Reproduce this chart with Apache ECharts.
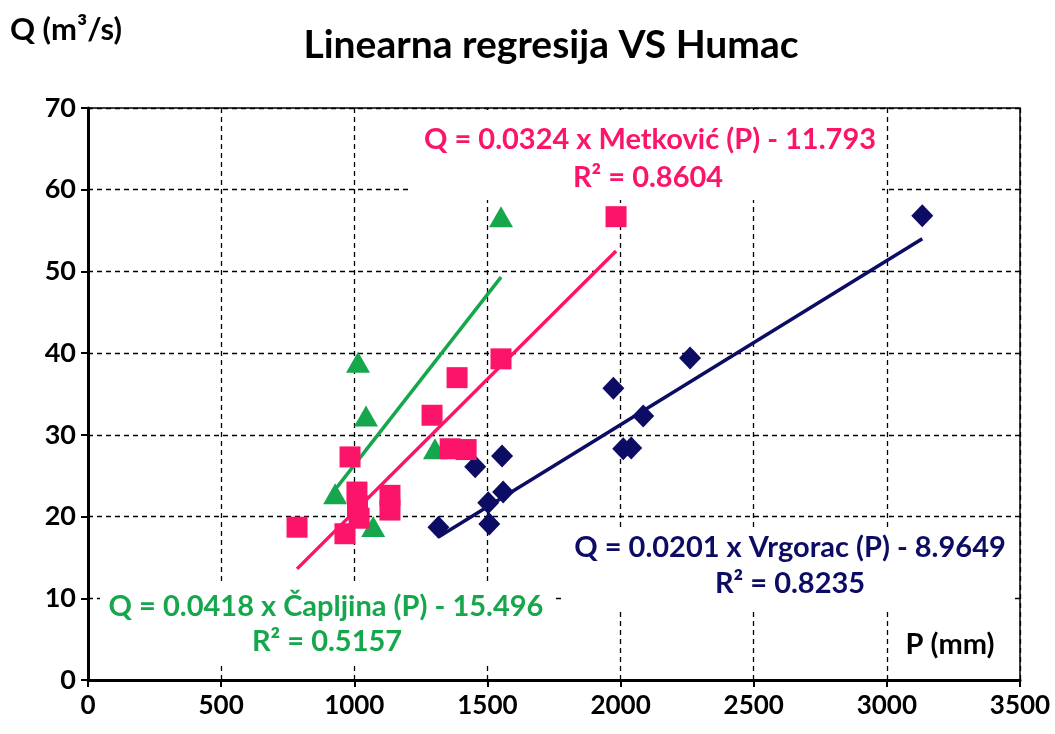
<!DOCTYPE html>
<html>
<head>
<meta charset="utf-8">
<script src="https://cdn.jsdelivr.net/npm/echarts@6/dist/echarts.min.js"></script>
<style>html,body{margin:0;padding:0;background:#fff}#c{width:1055px;height:734px}</style>
</head>
<body>
<div id="c"></div>
<script>
const vrgoracP = [1316, 1454, 1503, 1507, 1555, 1559, 1973, 2010, 2040, 2085, 2261, 3133];
const vrgoracQ = [18.7, 26.1, 21.7, 19.1, 27.4, 23.0, 35.7, 28.3, 28.4, 32.3, 39.4, 56.8];
const metkovicP = [785, 965, 984, 1010, 1012, 1018, 1134, 1134, 1292, 1360, 1386, 1420, 1551, 1983];
const metkovicQ = [18.7, 17.9, 27.3, 23.0, 21.3, 19.8, 22.6, 20.8, 32.4, 28.3, 37.0, 28.2, 39.3, 56.7];
const capljinaP = [928, 1014, 1044, 1071, 1303, 1551];
const capljinaQ = [22.8, 38.9, 32.3, 18.8, 28.3, 56.7];
const vrgoracTrendP = [1316, 3133];
const vrgoracTrendQ = [17.5, 54.0];
const metkovicTrendP = [785, 1983];
const metkovicTrendQ = [13.6, 52.5];
const capljinaTrendP = [928, 1551];
const capljinaTrendQ = [23.3, 49.3];
const titleText = 'Linearna regresija VS Humac';
const yName = 'Q (m³/s)';
const xName = 'P (mm)';
const metkovicEq = ['Q = 0.0324 x Metković (P) - 11.793', 'R² = 0.8604'];
const vrgoracEq = ['Q = 0.0201 x Vrgorac (P) - 8.9649', 'R² = 0.8235'];
const capljinaEq = ['Q = 0.0418 x Čapljina (P) - 15.496', 'R² = 0.5157'];

const FONT = "'Lato', sans-serif";
const NAVY = '#0c0c64', PINK = '#fb1469', GREEN = '#16a64c';
const zip = (a, b) => a.map((v, i) => [v, b[i]]);

const chart = echarts.init(document.getElementById('c'), null, {renderer: 'canvas'});

function txt(x, y, s, color, size) {
  return {type: 'text', x: x, y: y, z: 100, style: {text: s, fill: color, font: 'bold ' + size + 'px ' + FONT, textAlign: 'center', textVerticalAlign: 'middle'}};
}
function box(x, y, w, h) {
  return {type: 'rect', x: x, y: y, z: 1, shape: {width: w, height: h}, style: {fill: '#fff'}};
}
const gridLine = {show: true, lineStyle: {color: '#000', width: 1.3, type: [5, 4]}};

chart.setOption({
  animation: false,
  backgroundColor: '#fff',
  grid: {left: 88, right: 35, top: 108, bottom: 54, show: true, borderColor: '#000', borderWidth: 1.5, backgroundColor: 'transparent'},
  xAxis: {
    type: 'value', min: 0, max: 3500, interval: 500,
    axisLine: {show: true, onZero: false, lineStyle: {color: '#000', width: 3}},
    axisTick: {show: true, length: 7, lineStyle: {color: '#000', width: 2}},
    axisLabel: {color: '#000', fontFamily: FONT, fontWeight: 'bold', fontSize: 26, margin: 13, formatter: v => String(v)},
    splitLine: gridLine
  },
  yAxis: {
    type: 'value', min: 0, max: 70, interval: 10,
    axisLine: {show: true, onZero: false, lineStyle: {color: '#000', width: 3}},
    axisTick: {show: true, length: 7, lineStyle: {color: '#000', width: 2}},
    axisLabel: {color: '#000', fontFamily: FONT, fontWeight: 'bold', fontSize: 27, margin: 12, formatter: v => String(v)},
    splitLine: gridLine
  },
  series: [
    {type: 'line', data: zip(vrgoracTrendP, vrgoracTrendQ), showSymbol: false, symbol: 'none', lineStyle: {color: NAVY, width: 3.5}, z: 3},
    {type: 'line', data: zip(capljinaTrendP, capljinaTrendQ), showSymbol: false, symbol: 'none', lineStyle: {color: GREEN, width: 3.5}, z: 3},
    {type: 'line', data: zip(metkovicTrendP, metkovicTrendQ), showSymbol: false, symbol: 'none', lineStyle: {color: PINK, width: 3.5}, z: 3},
    {type: 'scatter', data: zip(vrgoracP, vrgoracQ), symbol: 'diamond', symbolSize: [22, 23], itemStyle: {color: NAVY, opacity: 1}, z: 4},
    {type: 'scatter', data: zip(capljinaP, capljinaQ), symbol: 'triangle', symbolSize: [24, 21], itemStyle: {color: GREEN, opacity: 1}, z: 4},
    {type: 'scatter', data: zip(metkovicP, metkovicQ), symbol: 'rect', symbolSize: [21, 21], itemStyle: {color: PINK, opacity: 1}, z: 5}
  ],
  graphic: [
    box(412, 110, 470, 90),
    box(565, 528, 450, 80),
    box(100, 585, 452, 78),
    box(898, 625, 110, 40),
    txt(551, 45, titleText, '#000', 39),
    {type: 'text', x: 10, y: 30, z: 100, style: {text: yName, fill: '#000', font: 'bold 31px ' + FONT, textAlign: 'left', textVerticalAlign: 'middle'}},
    txt(950, 645, xName, '#000', 29),
    txt(650, 140, metkovicEq[0], PINK, 29),
    txt(648, 178, metkovicEq[1], PINK, 29),
    txt(790, 548, vrgoracEq[0], NAVY, 29),
    txt(790, 584, vrgoracEq[1], NAVY, 29),
    txt(326, 607, capljinaEq[0], GREEN, 29),
    txt(327, 642, capljinaEq[1], GREEN, 29)
  ]
});
</script>
</body>
</html>
